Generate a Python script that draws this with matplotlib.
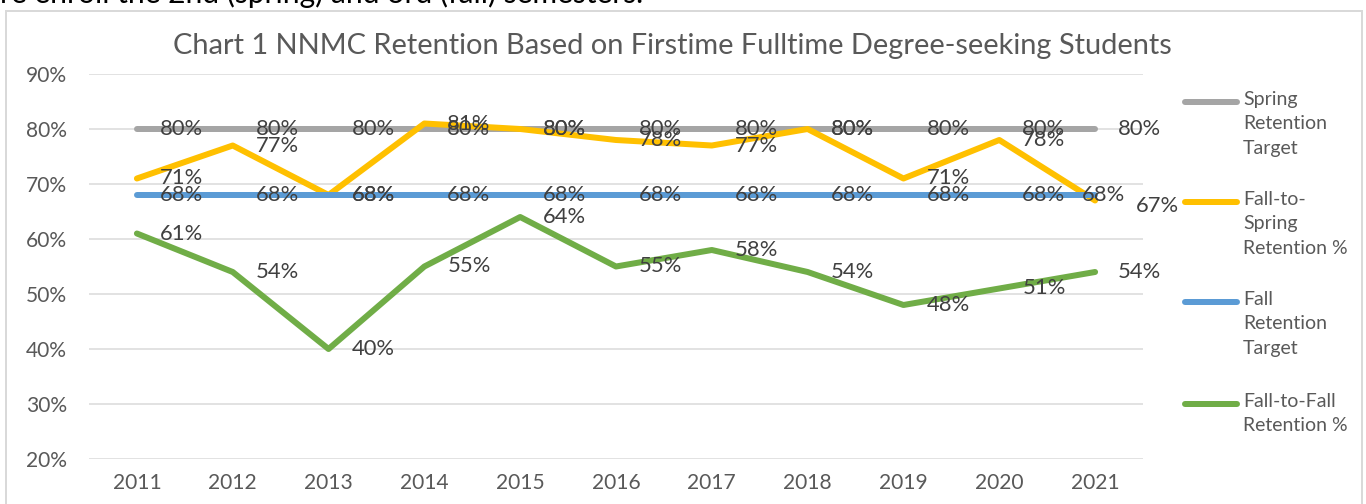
import matplotlib
matplotlib.use("Agg")
import matplotlib.pyplot as plt
from matplotlib.lines import Line2D
from matplotlib.patches import Rectangle

# ---- data ----
years = ["2011", "2012", "2013", "2014", "2015", "2016", "2017", "2018", "2019", "2020", "2021"]
spring_target = [80, 80, 80, 80, 80, 80, 80, 80, 80, 80, 80]
fall_to_spring = [71, 77, 68, 81, 80, 78, 77, 80, 71, 78, 67]
fall_target = [68, 68, 68, 68, 68, 68, 68, 68, 68, 68, 68]
fall_to_fall = [61, 54, 40, 55, 64, 55, 58, 54, 48, 51, 54]
series_names = ["Spring\nRetention\nTarget", "Fall-to-\nSpring\nRetention %",
                "Fall\nRetention\nTarget", "Fall-to-Fall\nRetention %"]
title = "Chart 1 NNMC Retention Based on Firstime Fulltime Degree-seeking Students"
top_text = "re enroll the 2nd (spring) and 3rd (fall) semesters."
yticks = [20, 30, 40, 50, 60, 70, 80, 90]

colors = ["#A5A5A5", "#FFC000", "#5B9BD5", "#70AD47"]
txt = "#595959"
FONT = "Lato"

W, H = 1366, 504
DPI = 100
def px(v):
    return v * 72.0 / DPI

fig = plt.figure(figsize=(W / DPI, H / DPI), dpi=DPI)
fig.patch.set_facecolor("white")

# chart border
fig.patches.append(Rectangle((6 / W, -0.05), (1362 - 6) / W, (H - 11) / H + 0.05,
                             transform=fig.transFigure, fill=False,
                             edgecolor="#D9D9D9", linewidth=px(2)))
# cropped text above chart
fig.text(0 / W, 1 - 3 / H, top_text, fontsize=px(30), family=FONT, color="black",
         ha="left", va="baseline")

left, right = 89, 1143
top, bottom = 74, 459
ax = fig.add_axes([left / W, 1 - bottom / H, (right - left) / W, (bottom - top) / H])
x = list(range(len(years)))
ax.set_xlim(-0.5, len(years) - 0.5)
ax.set_ylim(20, 90)
for s in ax.spines.values():
    s.set_visible(False)
ax.set_yticks(yticks)
ax.set_yticklabels([f"{v}%" for v in yticks])
ax.set_xticks(x)
ax.set_xticklabels(years)
ax.tick_params(length=0, labelsize=px(21), labelcolor=txt, pad=px(22))
ax.tick_params(axis="x", pad=px(14))
for lab in ax.get_xticklabels() + ax.get_yticklabels():
    lab.set_family(FONT)
ax.grid(axis="y", color="#D9D9D9", linewidth=px(1.5))
ax.set_axisbelow(True)

all_series = [spring_target, fall_to_spring, fall_target, fall_to_fall]
# label offset overrides (px): (series index, point index) -> (dx, dy)
overrides = {(2, 10): (-13, 0), (1, 10): (41, -5)}
for si, (vals, c) in enumerate(zip(all_series, colors)):
    ax.plot(x, vals, color=c, linewidth=px(6), solid_capstyle="round", zorder=3)
for si, vals in enumerate(all_series):
    for xi, v in zip(x, vals):
        dx, dy = overrides.get((si, xi), (23, 0))
        ax.annotate(f"{v}%", xy=(xi, v), xytext=(px(dx), px(dy)), textcoords="offset points",
                    ha="left", va="center", fontsize=px(22), color="#404040",
                    family=FONT, zorder=5, annotation_clip=False)

fig.text(672 / W, 1 - 46 / H, title, fontsize=px(29), color=txt, family=FONT,
         ha="center", va="center")

# legend
leg_y = [102, 202, 302, 404]
for name, c, yy in zip(series_names, colors, leg_y):
    fig.add_artist(Line2D([1185 / W, 1237 / W], [1 - yy / H, 1 - yy / H],
                          transform=fig.transFigure, color=c, linewidth=px(6),
                          solid_capstyle="round"))
    fig.text(1243 / W, 1 - (yy - 11) / H, name, fontsize=px(19.5), color=txt, family=FONT,
             ha="left", va="top", linespacing=1.52)

fig.savefig("out.png", dpi=DPI)
